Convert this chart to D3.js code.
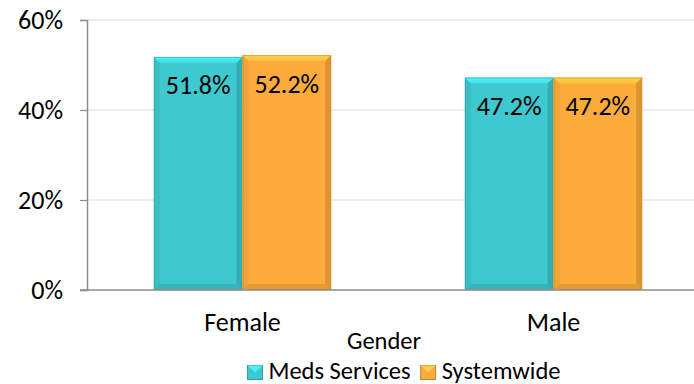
<!DOCTYPE html>
<html>
<head>
<meta charset="utf-8">
<script src="https://cdn.jsdelivr.net/npm/d3@7"></script>
<style>
  html, body { margin: 0; padding: 0; background: #fff; }
  svg { display: block; font-family: Carlito, Lato, "Open Sans", sans-serif; }
</style>
</head>
<body>
<svg id="chart" width="694" height="384"></svg>
<script>
const categories = ["Female", "Male"];
const seriesNames = ["Meds Services", "Systemwide"];
const medsServices = [0.518, 0.472];
const systemwide = [0.522, 0.472];
const yTicks = [0, 0.2, 0.4, 0.6];
const axisTitle = "Gender";
const colors = ["#3ec8cf", "#fdac3b"];

const seriesValues = [medsServices, systemwide];
const data = categories.map((c, i) => ({
  cat: c,
  vals: seriesNames.map((s, j) => ({ series: s, idx: j, value: seriesValues[j][i] }))
}));

const svg = d3.select("#chart");
const fs = 26;
const fsSmall = 24.5;

const y = d3.scaleLinear().domain([0, 0.6]).range([290, 20]);
const x0 = d3.scaleBand().domain(categories).range([87, 709]).paddingInner(0.43).paddingOuter(0.215);
const x1 = d3.scaleBand().domain(seriesNames).range([0, x0.bandwidth()]);

// gridlines
svg.append("g").selectAll("line").data(yTicks.filter(d => d > 0)).join("line")
  .attr("x1", 87).attr("x2", 694)
  .attr("y1", d => y(d)).attr("y2", d => y(d))
  .attr("stroke", "#d9d9d9").attr("stroke-width", 1.2);

// y axis
const yAxis = d3.axisLeft(y).tickValues(yTicks).tickFormat(d3.format(".0%")).tickSize(7).tickPadding(17);
const ga = svg.append("g").attr("transform", "translate(87,0)").call(yAxis);
ga.select(".domain").attr("stroke", "#8c8c8c").attr("stroke-width", 1.5);
ga.selectAll(".tick line").attr("stroke", "#8c8c8c").attr("stroke-width", 1.2);
ga.selectAll(".tick text").attr("font-size", fs).attr("fill", "#000").attr("font-family", "Carlito, Lato, sans-serif");

// bars with bevel
const defs = svg.append("defs");
colors.forEach((c, j) => {
  const g = defs.append("linearGradient").attr("id", "top" + j).attr("x1", 0).attr("y1", 0).attr("x2", 0).attr("y2", 1);
  g.append("stop").attr("offset", "0%").attr("stop-color", d3.color(c).brighter(0.6));
  g.append("stop").attr("offset", "100%").attr("stop-color", d3.color(c).brighter(0.25));
});

const bev = 6;
const groups = svg.append("g").selectAll("g").data(data).join("g")
  .attr("transform", d => `translate(${x0(d.cat)},0)`);

const bars = groups.selectAll("g.bar").data(d => d.vals).join("g").attr("class", "bar");
bars.each(function(d) {
  const g = d3.select(this);
  const xL = x1(d.series), xR = xL + x1.bandwidth();
  const yT = y(d.value), yB = y(0);
  const c = colors[d.idx];
  g.append("rect").attr("x", xL).attr("y", yT).attr("width", xR - xL).attr("height", yB - yT).attr("fill", c);
  g.append("polygon").attr("points", [[xL, yT], [xL + bev, yT + bev], [xL + bev, yB - bev], [xL, yB]].join(" "))
    .attr("fill", d3.color(c).darker(0.15));
  g.append("polygon").attr("points", [[xR, yT], [xR - bev, yT + bev], [xR - bev, yB - bev], [xR, yB]].join(" "))
    .attr("fill", d3.color(c).darker(0.4));
  g.append("polygon").attr("points", [[xL, yB], [xL + bev, yB - bev], [xR - bev, yB - bev], [xR, yB]].join(" "))
    .attr("fill", d3.color(c).darker(0.3));
  g.append("polygon").attr("points", [[xL, yT], [xR, yT], [xR - bev, yT + bev], [xL + bev, yT + bev]].join(" "))
    .attr("fill", `url(#top${d.idx})`);
  g.append("rect").attr("x", xL + 0.5).attr("y", yT + 0.5).attr("width", xR - xL - 1).attr("height", yB - yT - 1)
    .attr("fill", "none").attr("stroke", d3.color(c).darker(0.6)).attr("stroke-width", 1).attr("stroke-opacity", 0.6);
  g.append("text").attr("x", (xL + xR) / 2).attr("y", yT + 37.5)
    .attr("text-anchor", "middle").attr("font-size", fs).attr("fill", "#000")
    .text(d3.format(".1%")(d.value));
});

// baseline
svg.append("line").attr("x1", 80).attr("x2", 694).attr("y1", y(0)).attr("y2", y(0))
  .attr("stroke", "#8c8c8c").attr("stroke-width", 1.5);

// category labels
svg.append("g").selectAll("text").data(categories).join("text")
  .attr("x", d => x0(d) + x0.bandwidth() / 2).attr("y", 331)
  .attr("text-anchor", "middle").attr("font-size", fs).text(d => d);

svg.append("text").attr("x", 384).attr("y", 348.5).attr("text-anchor", "middle").attr("font-size", fsSmall).text(axisTitle);

// legend
const leg = svg.append("g");
let lx = 0;
seriesNames.forEach((s, j) => {
  const it = leg.append("g").attr("transform", `translate(${lx},0)`);
  const c = colors[j];
  it.append("rect").attr("x", 0).attr("y", -12).attr("width", 15).attr("height", 14).attr("fill", c)
    .attr("stroke", d3.color(c).darker(0.7)).attr("stroke-width", 1);
  it.append("polygon").attr("points", "0,-12 15,-12 7.5,-5").attr("fill", d3.color(c).brighter(0.5));
  const t = it.append("text").attr("x", 21).attr("y", 1).attr("font-size", fsSmall).text(s);
  lx += 21 + t.node().getComputedTextLength() + 10;
});
const lw = lx - 10;
leg.attr("transform", `translate(${404 - lw / 2},377.5)`);
</script>
</body>
</html>
